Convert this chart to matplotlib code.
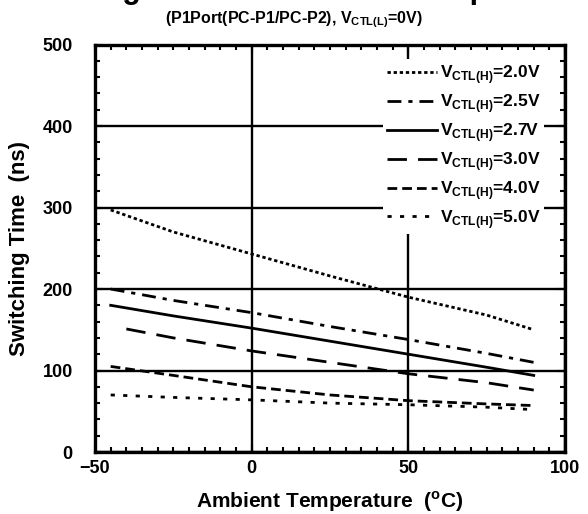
import matplotlib.pyplot as plt
from matplotlib.ticker import MultipleLocator

plt.rcParams['font.family'] = ['Liberation Sans', 'DejaVu Sans']
plt.rcParams['font.weight'] = 'bold'
plt.rcParams['axes.labelweight'] = 'bold'
plt.rcParams['mathtext.fontset'] = 'custom'
plt.rcParams['mathtext.rm'] = 'Liberation Sans:bold'
plt.rcParams['mathtext.bf'] = 'Liberation Sans:bold'

# 周囲温度 (°C) とスイッチング時間 (ns)
temp = [-45, -25, 0, 25, 50, 75, 90]
t_20 = [297, 270, 243, 216, 190, 168, 150]
t_25 = [200, 186, 171, 154, 138, 121, 110]
t_27 = [180, 167, 152, 136, 120, 104, 94]
temp_30 = [-40, -25, 0, 25, 50, 75, 90]
t_30 = [151, 140, 124, 110, 96, 85, 76]
t_40 = [105, 94, 80, 70, 63, 59, 57]
t_50 = [70, 67, 64, 60, 58, 55, 52]
volts = ['2.0', '2.5', '2.7', '3.0', '4.0', '5.0']

fig = plt.figure(figsize=(5.88, 5.14), dpi=100)
ax = fig.add_axes([0.1616, 0.1206, 0.7994, 0.7928])

styles = [(0, (1.2, 1.0)), (0, (5, 2.5, 1.5, 2.5)), '-', (0, (7, 4)), (0, (3.5, 1.8)), (0, (1.5, 3))]
series = [(temp, t_20), (temp, t_25), (temp, t_27), (temp_30, t_30), (temp, t_40), (temp, t_50)]
for (xs, ys), ls, v in zip(series, styles, volts):
    ax.plot(xs, ys, color='k', lw=2, linestyle=ls,
            label=r'V$_{\mathrm{CTL(H)}}$=' + v + 'V')

ax.set_xlim(-50, 100)
ax.set_ylim(0, 500)
ax.xaxis.set_major_locator(MultipleLocator(50))
ax.xaxis.set_minor_locator(MultipleLocator(5))
ax.yaxis.set_major_locator(MultipleLocator(100))
ax.yaxis.set_minor_locator(MultipleLocator(20))
ax.tick_params(which='both', direction='in', top=True, right=True, width=1.5,
               labelsize=13)
ax.tick_params(which='major', length=6)
ax.tick_params(which='minor', length=3.5)
ax.tick_params(axis='x', pad=6)
ax.tick_params(axis='y', pad=16)
for s in ax.spines.values():
    s.set_linewidth(2.4)
ax.grid(True, which='major', color='k', lw=1.7)
ax.set_axisbelow(True)

ax.set_xlabel('Ambient Temperature  ($^{\\mathrm{o}}$C)', fontsize=15)
ax.set_ylabel('Switching Time  (ns)', fontsize=16)
ax.xaxis.label.set_va('center')
ax.yaxis.label.set_va('center')
ax.xaxis.set_label_coords(0.5, -0.123)
ax.yaxis.set_label_coords(-0.16, 0.5)

leg = ax.legend(loc='upper right', bbox_to_anchor=(0.973, 0.985), fontsize=12.5,
                handlelength=2.9, handletextpad=0.15, labelspacing=0.35,
                frameon=True, fancybox=False, framealpha=1, edgecolor='none',
                facecolor='white', borderpad=0.2)

fig.text(0.5, 0.962, r'(P1Port(PC-P1/PC-P2), V$_{\mathrm{CTL(L)}}$=0V)',
         ha='center', va='center', fontsize=11.5)
fig.text(0.5, 1.004, 'Switching Time vs. Ambient Temperature', ha='center',
         va='baseline', fontsize=22)

fig.savefig('out.png', dpi=100)
